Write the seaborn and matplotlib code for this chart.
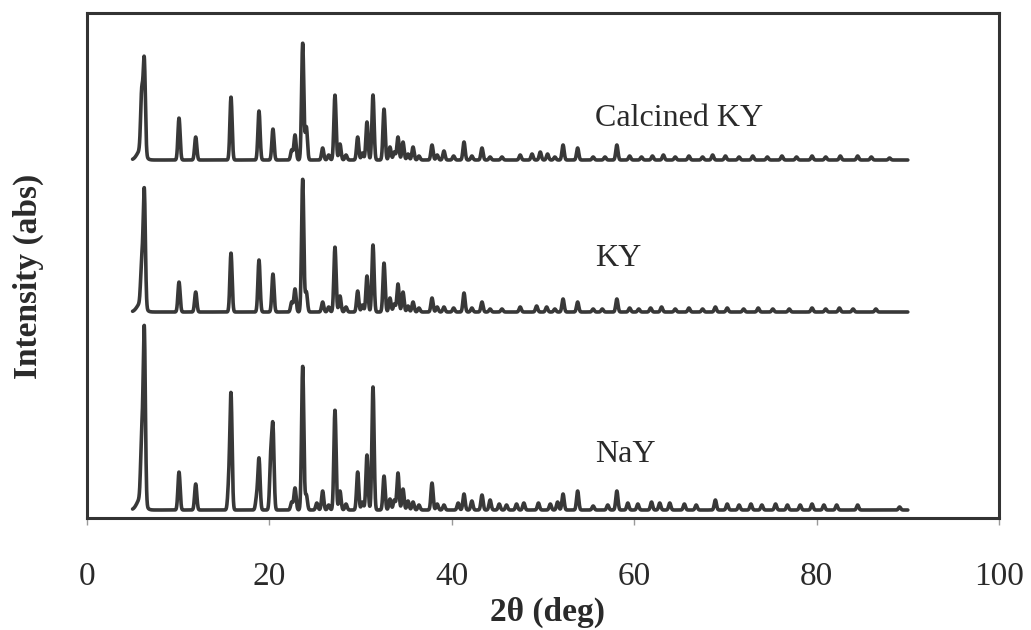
import numpy as np
import pandas as pd
import matplotlib
matplotlib.use("Agg")
import matplotlib.pyplot as plt
import seaborn as sns

# --- X-ray diffraction data (2-theta in degrees, intensity in arbitrary units) ---
samples = ["NaY", "KY", "Calcined KY"]
scan_start, scan_end = 5.0, 90.0

# main faujasite reflections shared by the three patterns
reflection_2theta = [6.00, 6.28, 10.09, 11.92, 15.79, 18.86, 20.15, 20.39, 22.81,
                     23.65, 24.05, 25.84, 27.19, 27.74, 29.68, 30.70, 31.36, 32.57,
                     33.22, 34.10, 34.65, 35.75, 37.83, 39.14, 41.34, 43.31, 52.20,
                     53.80, 58.10]
nay_heights = [60, 173, 38, 26, 114, 51, 50, 80, 22,
               144, 15, 19, 100, 19, 38, 55, 123, 34,
               11, 37, 21, 8, 27, 5, 16, 15, 16,
               19, 19]
ky_heights = [40, 116, 30, 20, 59, 52, 0, 38, 23,
              133, 20, 10, 65, 16, 21, 36, 67, 49,
              14, 28, 20, 10, 14, 5, 19, 10, 13,
              10, 13]
calcined_heights = [57, 93, 42, 23, 63, 49, 0, 31, 25,
                    117, 33, 12, 65, 16, 23, 38, 65, 51,
                    13, 23, 18, 13, 15, 9, 18, 12, 15,
                    12, 15]

# weak reflections of each pattern
nay_minor_2theta = [15.55, 18.60, 22.45, 25.20, 26.50, 28.40, 30.20, 33.70, 35.20,
                    36.40, 38.40, 40.7, 42.2, 44.2, 45.2, 46.0, 47.1, 47.9, 49.5, 50.8,
                    51.6, 55.5, 57.1, 59.3, 60.4, 61.9, 62.8, 63.9, 65.5, 66.8, 68.9,
                    70.2, 71.5, 72.8, 74.0, 75.5, 76.8, 78.2, 79.5, 80.8, 82.2, 84.5,
                    89.1]
nay_minor_heights = [25, 12, 8, 7, 5, 6, 8, 10, 9,
                     5, 6, 7, 9, 10, 6, 5, 6, 7, 7, 6,
                     8, 4, 5, 7, 6, 8, 7, 7, 6, 5, 10,
                     6, 5, 6, 5, 6, 5, 5, 6, 5, 5, 5,
                     3]
ky_minor_2theta = [22.45, 26.50, 28.40, 30.20, 33.70, 35.20, 36.40, 38.40, 40.20,
                   42.20, 44.20, 45.5, 47.5, 49.3, 50.4, 51.3, 55.5, 56.5, 59.5, 60.5,
                   61.8, 63.0, 64.5, 66.0, 67.5, 68.9, 70.2, 72.0, 73.6, 75.2, 77.0,
                   79.5, 81.0, 82.5, 84.0, 86.5]
ky_minor_heights = [10, 5, 5, 7, 8, 6, 4, 5, 4,
                    4, 3, 3, 5, 6, 5, 3, 3, 3, 4, 3,
                    4, 5, 3, 4, 3, 5, 4, 3, 4, 3, 3,
                    4, 3, 4, 3, 3]
calcined_minor_2theta = [22.45, 26.50, 28.40, 30.20, 33.70, 35.20, 36.40, 38.40, 40.20,
                         42.20, 44.20, 45.5, 47.5, 48.8, 49.7, 50.5, 51.3, 55.5, 56.8,
                         59.5, 60.8, 62.0, 63.2, 64.5, 66.0, 67.5, 68.6, 70.0, 71.5,
                         73.0, 74.6, 76.2, 77.8, 79.5, 81.0, 82.6, 84.5, 86.0, 88.0]
calcined_minor_heights = [10, 5, 5, 7, 8, 6, 4, 5, 4,
                          4, 3, 3, 5, 6, 8, 6, 3, 3, 3,
                          4, 3, 4, 5, 3, 4, 3, 5, 4, 3,
                          4, 3, 4, 3, 4, 3, 4, 4, 3, 2]

low_angle_background = [12, 9, 10]        # rise of the scan towards the first reflection
stack_offsets = [8, 206, 358]              # vertical offset of each pattern
label_positions = [(55.7, 63), (55.7, 260), (55.7, 400)]

# --- build the profiles from the reflection lists ---
grid = np.arange(scan_start, scan_end + 1e-9, 0.02)
peak_sigma = 0.12


def profile(pos, heights, minor_pos, minor_heights, background, offset):
    y = np.full_like(grid, float(offset))
    for p, h in zip(list(pos) + list(minor_pos), list(heights) + list(minor_heights)):
        y += h * np.exp(-0.5 * ((grid - p) / peak_sigma) ** 2)
    y += background * np.exp(-0.5 * ((grid - 5.9) / 0.4) ** 2)
    return y


series = {
    "NaY": profile(reflection_2theta, nay_heights, nay_minor_2theta, nay_minor_heights,
                   low_angle_background[0], stack_offsets[0]),
    "KY": profile(reflection_2theta, ky_heights, ky_minor_2theta, ky_minor_heights,
                  low_angle_background[1], stack_offsets[1]),
    "Calcined KY": profile(reflection_2theta, calcined_heights, calcined_minor_2theta,
                           calcined_minor_heights, low_angle_background[2], stack_offsets[2]),
}

df = pd.concat(
    [pd.DataFrame({"two_theta": grid, "intensity": series[s], "sample": s}) for s in samples],
    ignore_index=True,
)

# --- figure ---
sns.set_theme(style="white")
plt.rcParams["font.family"] = ["Liberation Serif", "DejaVu Serif"]

line_color = "#383838"
fig = plt.figure(figsize=(10.31, 6.30), dpi=100)
ax = fig.add_axes([87 / 1031, 1 - 518 / 630, 912 / 1031, 505 / 630])

sns.lineplot(data=df, x="two_theta", y="intensity", hue="sample", units="sample",
             estimator=None, palette={s: line_color for s in samples}, linewidth=2.6,
             legend=False, ax=ax, sort=False)

for name, (lx, ly) in zip(samples, label_positions):
    ax.text(lx, ly, name, fontsize=23, color="#2a2a2a", ha="left", va="center")

ax.set_xlim(0, 100)
ax.set_ylim(0, 505)
ax.set_xticks([0, 20, 40, 60, 80, 100])
ax.set_yticks([])
ax.tick_params(axis="x", bottom=True, direction="out", length=5, width=1,
               color="#9a9a9a", pad=26, labelsize=24, labelcolor="#2a2a2a")

for sp in ax.spines.values():
    sp.set_visible(True)
    sp.set_color("#333333")
    sp.set_linewidth(2.2)

ax.set_xlabel("2θ (deg)", fontsize=24, fontweight="bold", color="#2a2a2a")
ax.set_ylabel("Intensity (abs)", fontsize=24, fontweight="bold", color="#2a2a2a")
ax.xaxis.set_label_coords(0.505, -0.156)
ax.yaxis.set_label_coords(-0.047, 0.479)

fig.savefig("out.png", dpi=100)
